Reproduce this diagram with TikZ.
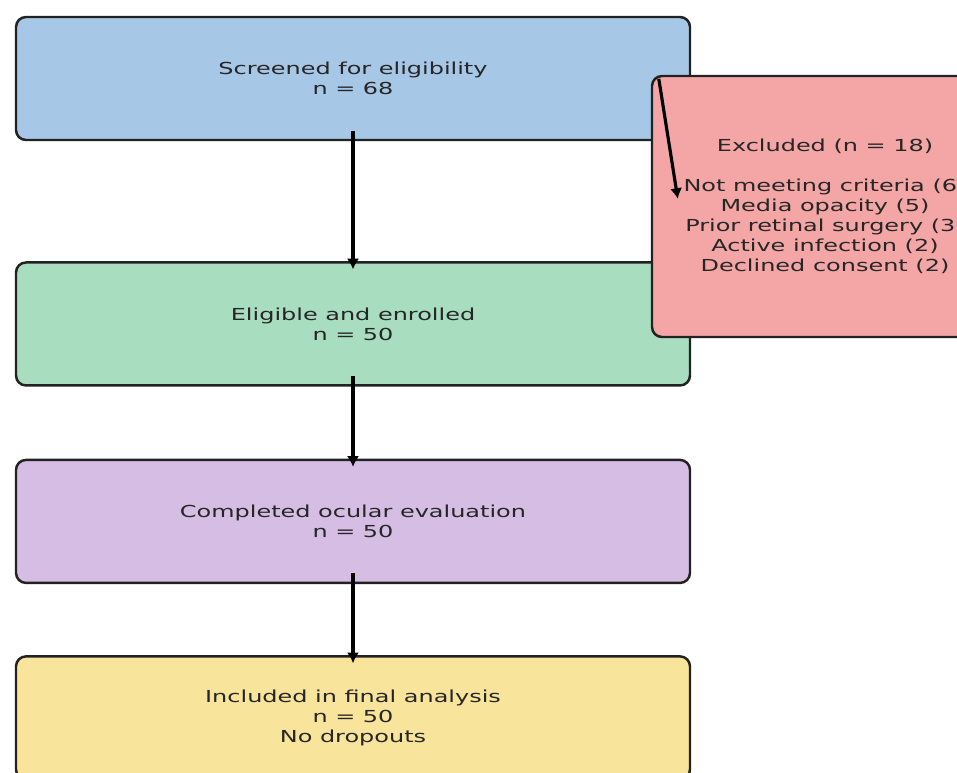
\documentclass[tikz,border=0pt]{standalone}
\usepackage{fontspec}
\setmainfont{DejaVu Sans}[FakeStretch=1.45]
\usepackage{xcolor}
\usepackage{tikz}
\usetikzlibrary{positioning, calc, arrows.meta}
\definecolor{boxblue}{RGB}{167, 199, 231}
\definecolor{boxgreen}{RGB}{168, 221, 192}
\definecolor{boxpurple}{RGB}{214, 189, 227}
\definecolor{boxyellow}{RGB}{249, 228, 156}
\definecolor{boxred}{RGB}{244, 166, 166}
\definecolor{edgedark}{RGB}{34, 34, 34}
\tikzset{
    flowbox/.style={
        draw=edgedark, line width=1.4pt, rounded corners=0.2cm,
        minimum width=13.48cm, minimum height=2.46cm, align=center,
        text=black!85, font=\fontsize{9.4}{11.4}\selectfont
    },
    flowptr/.style={
        -{Latex[length=6pt,width=7pt]}, line width=1.8pt, black
    }
}

\begin{document}
\begin{tikzpicture}
        % --- FRAME ---
        \path[use as bounding box, clip] (0,0) rectangle (19.14,-15.44);

        % --- MAIN COLUMN ---
        \node[flowbox, fill=boxblue] (screen) at (7.06,-1.57) {Screened for eligibility\\n = 68};
        \node[flowbox, fill=boxgreen, below=2.4cm of screen] (enrol) {Eligible and enrolled\\n = 50};
        \node[flowbox, fill=boxpurple, below=1.44cm of enrol] (ocular) {Completed ocular evaluation\\n = 50};
        \node[flowbox, fill=boxyellow, below=1.42cm of ocular] (final) {Included in final analysis\\n = 50\\No dropouts};

        % --- EXCLUDED BOX ---
        \node[flowbox, fill=boxred, minimum width=6.92cm, minimum height=5.22cm] (excl) at (16.5,-4.13)
            {Excluded (n = 18)\\[11.4pt]Not meeting criteria (6)\\Media opacity (5)\\Prior retinal surgery (3)\\Active infection (2)\\Declined consent (2)};

        % --- ARROWS ---
        \draw[flowptr] ($(screen.south)+(0,0.2)$) -- ($(enrol.north)+(0,-0.16)$);
        \draw[flowptr] ($(enrol.south)+(0,0.22)$) -- ($(ocular.north)+(0,-0.16)$);
        \draw[flowptr] ($(ocular.south)+(0,0.22)$) -- ($(final.north)+(0,-0.16)$);
        \draw[flowptr] ($(excl.north west)+(0.16,-0.08)$) -- ($(excl.north west)+(0.54,-2.48)$);

    \end{tikzpicture}
\end{document}
